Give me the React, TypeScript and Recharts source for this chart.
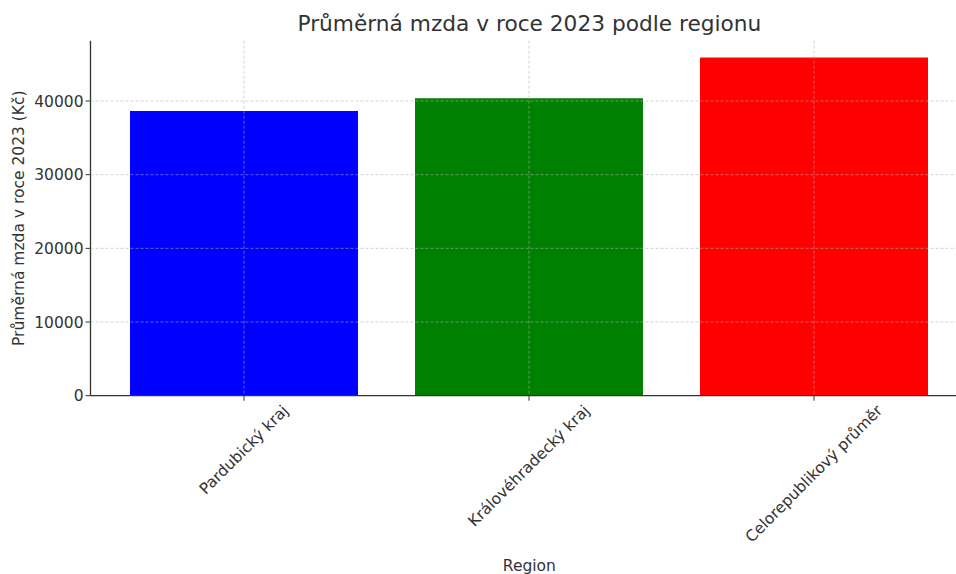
import React from 'react';
import { BarChart, Bar, XAxis, YAxis, CartesianGrid, Cell } from 'recharts';

const regions = ['Pardubický kraj', 'Královéhradecký kraj', 'Celorepublikový průměr'];
const wages = [38640, 40370, 45890];
const barColors = ['#0000ff', '#008000', '#ff0000'];
const yTicks = [0, 10000, 20000, 30000, 40000];

const data = regions.map((region, i) => ({ region, wage: wages[i] }));

const FONT = '"DejaVu Sans", sans-serif';
const TEXT = '#333333';
const TICK_PX = 15.5;

// plot box (matplotlib style: bars padded inside the axes, right side runs off the page)
const W = 980;
const H = 574;
const PLOT_LEFT = 90.5;
const PLOT_RIGHT = 968.3;
const PLOT_TOP = 40.7;
const PLOT_BOTTOM = 395.7;

let measureCtx: CanvasRenderingContext2D | null = null;
const textWidth = (s: string) => {
  if (!measureCtx) {
    measureCtx = document.createElement('canvas').getContext('2d');
  }
  if (!measureCtx) return s.length * TICK_PX * 0.55;
  measureCtx.font = `${TICK_PX}px "DejaVu Sans"`;
  return measureCtx.measureText(s).width;
};

// rotated 45deg label, bounding box centred under the tick, top at y
const RotatedTick = (props: any) => {
  const { x, y, payload } = props;
  const label = String(payload.value);
  const boxH = (textWidth(label) + TICK_PX * 1.16) * Math.SQRT1_2;
  const cx = x;
  const cy = y + boxH / 2;
  return (
    <text
      x={cx}
      y={cy}
      textAnchor="middle"
      dominantBaseline="central"
      transform={`rotate(-45 ${cx} ${cy})`}
      fill={TEXT}
      fontSize={TICK_PX}
      fontFamily={FONT}
    >
      {label}
    </text>
  );
};

const App: React.FC = () => {
  const yMax = Math.max(...wages) * 1.05;
  const plotCenterX = (PLOT_LEFT + PLOT_RIGHT) / 2;
  const plotCenterY = (PLOT_TOP + PLOT_BOTTOM) / 2;

  return (
    <div
      style={{
        position: 'absolute',
        left: 0,
        top: 0,
        width: 956,
        height: 574,
        overflow: 'hidden',
        background: '#fff',
        fontFamily: FONT,
      }}
    >
      <BarChart
        width={W}
        height={H}
        data={data}
        margin={{ top: PLOT_TOP, right: W - PLOT_RIGHT, bottom: 0, left: 0 }}
        barCategoryGap="10%"
      >
        <XAxis
          dataKey="region"
          type="category"
          height={H - PLOT_BOTTOM}
          padding={{ left: 11, right: 11.8 }}
          axisLine={{ stroke: TEXT, strokeWidth: 1.3 }}
          tickLine={{ stroke: TEXT, strokeWidth: 1 }}
          tickSize={5}
          tickMargin={1}
          interval={0}
          tick={<RotatedTick />}
        />
        <YAxis
          width={PLOT_LEFT}
          domain={[0, yMax]}
          ticks={yTicks}
          axisLine={{ stroke: TEXT, strokeWidth: 1.3 }}
          tickLine={{ stroke: TEXT, strokeWidth: 1 }}
          tickSize={5}
          tickMargin={2}
          tick={{ fill: TEXT, fontSize: TICK_PX, fontFamily: FONT }}
        />
        <Bar dataKey="wage" isAnimationActive={false}>
          {data.map((d, i) => (
            <Cell key={d.region} fill={barColors[i]} />
          ))}
        </Bar>
        <CartesianGrid
          stroke="#b0b0b0"
          strokeOpacity={0.7}
          strokeWidth={0.8}
          strokeDasharray="3 2"
          horizontalValues={yTicks.slice(1)}
          syncWithTicks
          zIndex={600}
        />
      </BarChart>
      <svg
        width={956}
        height={574}
        style={{ position: 'absolute', left: 0, top: 0, pointerEvents: 'none' }}
      >
        <text x={plotCenterX} y={31} textAnchor="middle" fontSize={21.7} fill={TEXT} fontFamily={FONT}>
          Průměrná mzda v roce 2023 podle regionu
        </text>
        <text x={plotCenterX} y={571} textAnchor="middle" fontSize={TICK_PX} fill={TEXT} fontFamily={FONT}>
          Region
        </text>
        <text
          x={19}
          y={plotCenterY}
          textAnchor="middle"
          dominantBaseline="central"
          transform={`rotate(-90 19 ${plotCenterY})`}
          fontSize={TICK_PX}
          fill={TEXT}
          fontFamily={FONT}
        >
          Průměrná mzda v roce 2023 (Kč)
        </text>
      </svg>
    </div>
  );
};

export default App;
